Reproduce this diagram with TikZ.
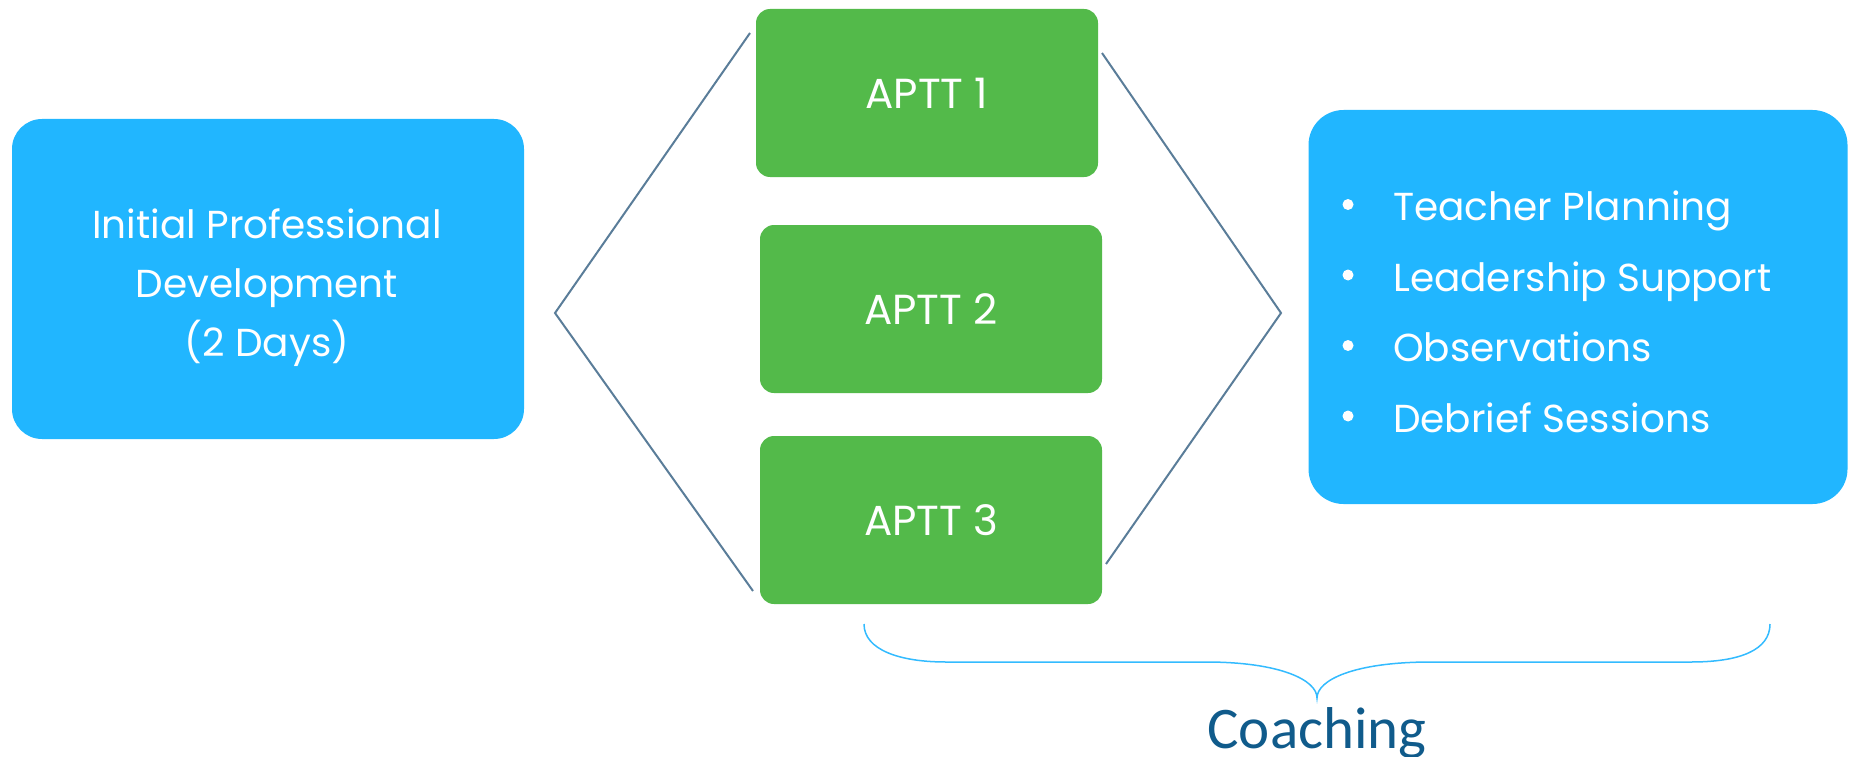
\documentclass[tikz,border=0pt]{standalone}
\usepackage{fontspec}
\setmainfont{Poppins}
\newfontfamily\coachfont{Carlito}
\definecolor{skyblue}{HTML}{21B6FF}
\definecolor{leafgreen}{HTML}{53BA4A}
\definecolor{slateline}{HTML}{5A7D99}
\definecolor{bracecol}{HTML}{33BBFF}
\definecolor{coachblue}{HTML}{105B8B}

\begin{document}
\begin{tikzpicture}
    [x=1pt, y=-1pt,
    bluebox/.style={fill=skyblue, rounded corners=30pt},
    boxtext/.style={text=white, align=center, inner sep=0pt, font=\fontsize{39}{59}\selectfont},
    aptt/.style={fill=leafgreen, rounded corners=14pt, text=white,
      minimum width=342pt, minimum height=168pt, font=\fontsize{42}{44}\selectfont},
    item/.style={text=white, inner sep=0pt, font=\fontsize{39}{44}\selectfont},
    dot/.style={circle, fill=white, inner sep=0pt, minimum size=11pt},
    bracket/.style={draw=slateline, line width=2pt},
    coachbrace/.style={draw=bracecol, line width=1.5pt}]
    \useasboundingbox (0,0) rectangle (1854,757);

    % boxes
    \node[bluebox, minimum width=512pt, minimum height=320pt] (initial) at (268,279) {};
    \node[boxtext] (initialtext) at (267,288) {Initial Professional\\Development\\(2 Days)};
    \node[aptt] (aptt1) at (927,93) {APTT 1};
    \node[aptt] (aptt2) at (931,309) {APTT 2};
    \node[aptt] (aptt3) at (931,520) {APTT 3};
    \node[bluebox, rounded corners=35pt, minimum width=539pt, minimum height=394pt] (support) at (1578,307) {};

    % bullet list
    \foreach \txt [count=\i] in {Teacher Planning, Leadership Support, Observations, Debrief Sessions} {
      \node[dot] (dot\i) at (1348,134+70.5*\i) {};
      \node[item, anchor=base west] (item\i) at (1393,150+70.5*\i) {\txt};
    }

    % brackets
    \coordinate (lefttip) at (555,313);
    \coordinate (lefttop) at (750,33);
    \coordinate (leftbot) at (753,591);
    \coordinate (righttip) at (1281,313);
    \coordinate (righttop) at (1102,53);
    \coordinate (rightbot) at (1106,564);
    \draw[bracket] (lefttop) -- (lefttip) -- (leftbot);
    \draw[bracket] (righttop) -- (righttip) -- (rightbot);

    % coaching brace
    \coordinate (braceL) at (864,624);
    \coordinate (braceR) at (1770,624);
    \coordinate (bracetip) at (1317,698);
    \draw[coachbrace] (braceL) .. controls (864,650) and (900,662) .. (946,662)
      -- (1206,662) .. controls (1280,662) and (1317,680) .. (bracetip)
      .. controls (1317,680) and (1354,662) .. (1431,662)
      -- (1691,662) .. controls (1740,662) and (1770,650) .. (braceR);
    \node[anchor=base, text=coachblue, inner sep=0pt, font=\coachfont\fontsize{59}{60}\selectfont]
      (coaching) at (1317,748) {Coaching};
\end{tikzpicture}
\end{document}
